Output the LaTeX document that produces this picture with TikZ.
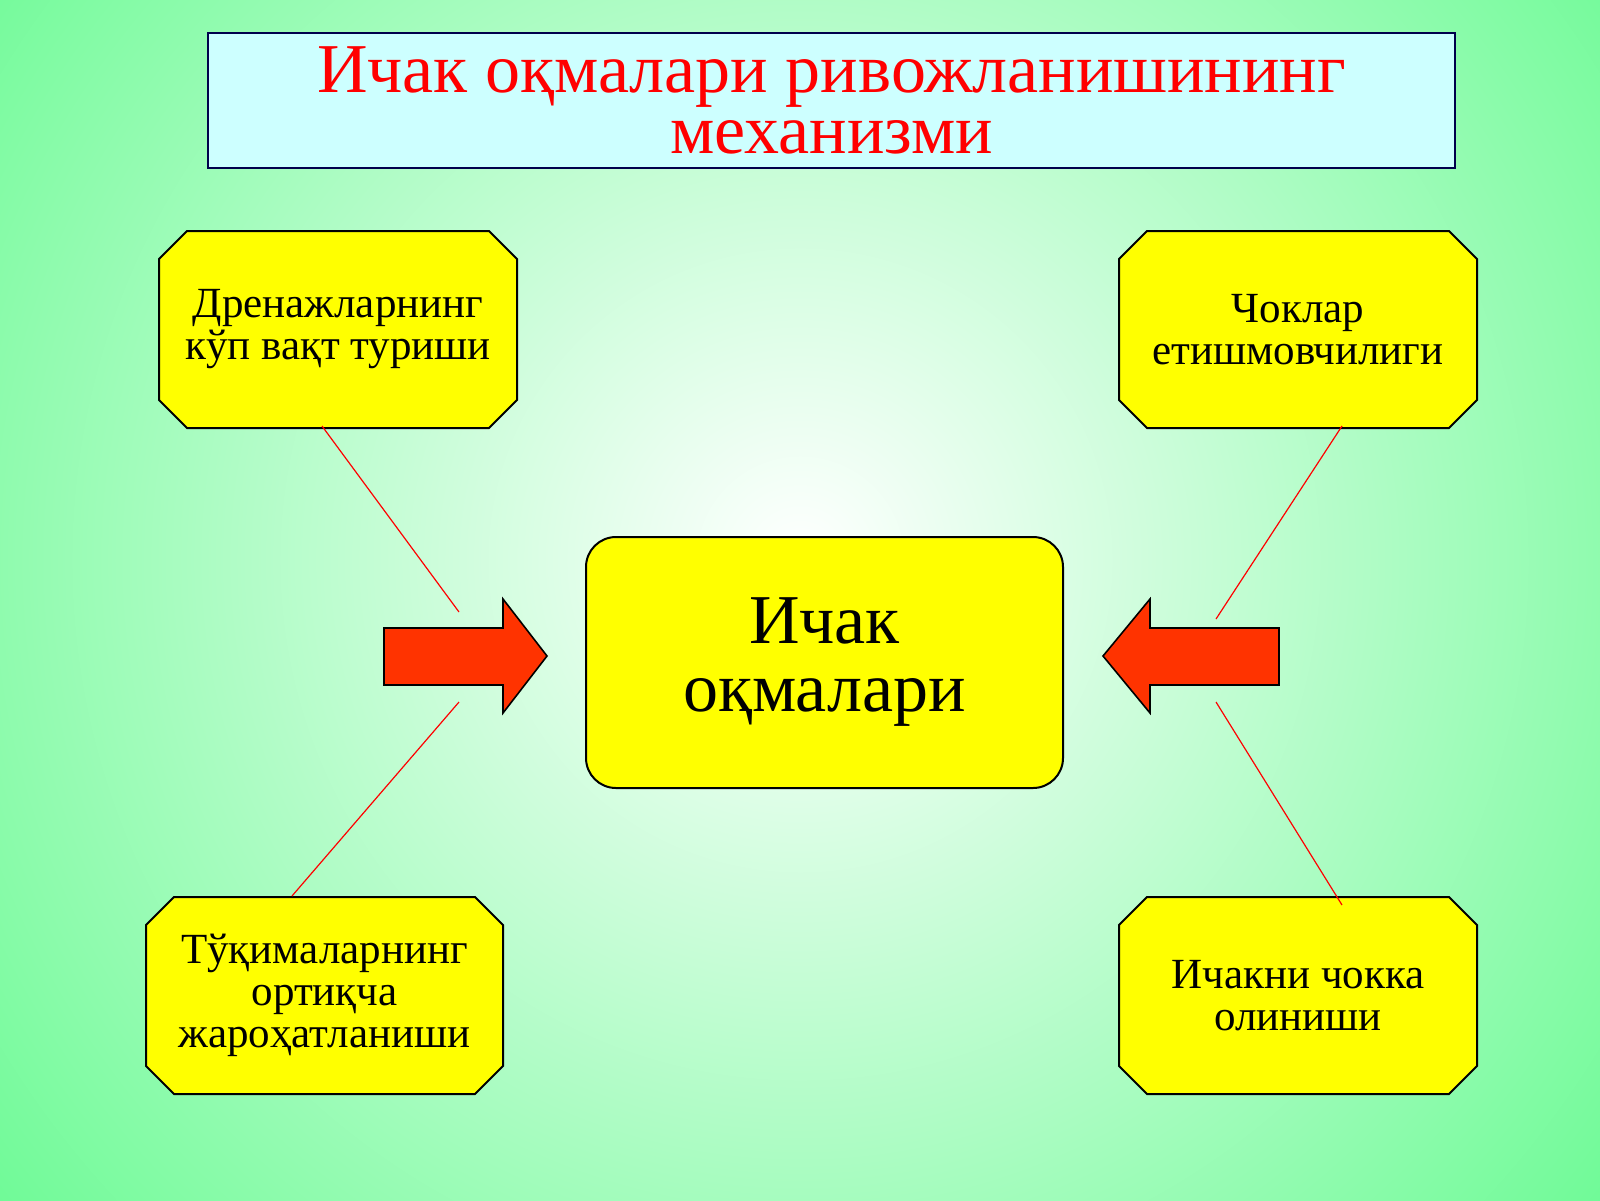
\documentclass[tikz,border=0pt]{standalone}
\usepackage{fontspec}
\setmainfont{Liberation Serif}
\usetikzlibrary{shapes.misc}
\definecolor{bggreen}{RGB}{110,250,150}
\definecolor{ylw}{RGB}{255,255,0}
\definecolor{arr}{RGB}{255,51,0}
\definecolor{ttl}{RGB}{205,255,255}
\begin{document}
\begin{tikzpicture}[x=0.5pt,y=-0.5pt,
  oct/.style={chamfered rectangle,chamfered rectangle xsep=7pt,chamfered rectangle ysep=7pt,draw=black,line width=1pt,fill=ylw,align=center,font=\fontsize{21.5}{21}\selectfont,inner sep=0pt},
  link/.style={draw=red,line width=0.6pt},
  bigarrow/.style={fill=arr,draw=black,line width=0.8pt}]
\useasboundingbox (0,0) rectangle (1600,1200);
\fill[bggreen] (0,0) rectangle (1600,1200);
\shade[inner color=white,outer color=bggreen] (800,560) circle (520pt);
\node[draw=black!70!blue,line width=0.6pt,fill=ttl,minimum width=623.5pt,minimum height=67.5pt,align=center,text=red,font=\fontsize{35}{30.5}\selectfont] (title) at (831.5,100.5) {Ичак оқмалари ривожланишининг\\механизми};
\node[oct,minimum width=179pt,minimum height=98.5pt] (tl) at (338,329.5) {Дренажларнинг\\кўп вақт туриши};
\node[oct,minimum width=179pt,minimum height=98.5pt] (tr) at (1298,329.5) {Чоклар\\етишмовчилиги};
\node[oct,minimum width=178.5pt,minimum height=98.5pt] (bl) at (324.5,995.5) {Тўқималарнинг\\ортиқча\\жароҳатланиши};
\node[oct,minimum width=179pt,minimum height=98.5pt] (br) at (1298,995.5) {Ичакни чокка\\олиниши};
\node[draw=black,line width=1pt,fill=ylw,rounded corners=15pt,minimum width=238.5pt,minimum height=125.5pt,align=center,font=\fontsize{35}{34}\selectfont] (c) at (824.5,662.5) {Ичак\\ оқмалари};
\draw[bigarrow] (384,628) -- (503,628) -- (503,599) -- (547,656) -- (503,713) -- (503,685) -- (384,685) -- cycle;
\draw[bigarrow] (1279,628) -- (1150,628) -- (1150,599) -- (1103,656) -- (1150,713) -- (1150,685) -- (1279,685) -- cycle;
\coordinate (a1) at (459,612);
\coordinate (a2) at (459,702);
\coordinate (a3) at (1216,619);
\coordinate (a4) at (1216,702);
\draw[link] (322,426) -- (a1);
\draw[link] (292,896) -- (a2);
\draw[link] (1342,426) -- (a3);
\draw[link] (1342,905) -- (a4);
\end{tikzpicture}
\end{document}
